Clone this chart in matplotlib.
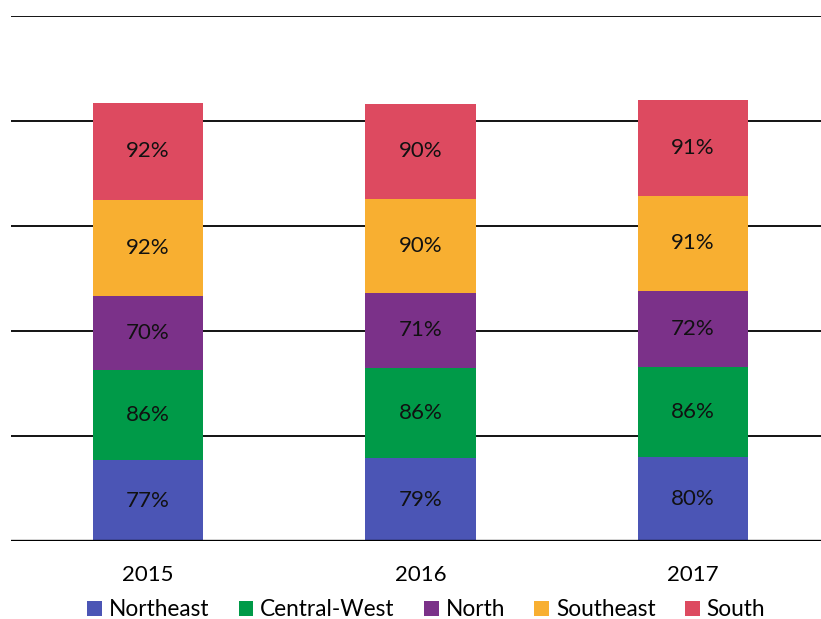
import matplotlib
matplotlib.use("Agg")
import matplotlib.pyplot as plt
import numpy as np

years = ["2015", "2016", "2017"]
regions = ["Northeast", "Central-West", "North", "Southeast", "South"]
northeast = [77, 79, 80]
central_west = [86, 86, 86]
north = [70, 71, 72]
southeast = [92, 90, 91]
south = [92, 90, 91]
series = [northeast, central_west, north, southeast, south]
colors = ["#4B55B5", "#009A48", "#7B3189", "#F8AF31", "#DD4A60"]

plt.rcParams['font.family'] = ['Lato', 'DejaVu Sans']
fig = plt.figure(figsize=(8.21, 6.19), dpi=100)
ax = fig.add_axes([11/821, 78/619, 810/821, 525/619])
x = np.arange(len(years))
bottom = np.zeros(len(years))
for name, vals, c in zip(regions, series, colors):
    vals = np.array(vals, dtype=float)
    bars = ax.bar(x, vals, 0.404, bottom=bottom, color=c, label=name, zorder=3)
    for xi, b, v in zip(x, bottom, vals):
        ax.text(xi, b + v / 2, f"{int(v)}%", ha="center", va="center",
                fontsize=16, color="#111111", zorder=4)
    bottom += vals

ax.set_ylim(0, 500)
ax.set_xlim(-0.503, 2.47)
for y in [100, 200, 300, 400, 500]:
    ax.axhline(y, color="#000000", lw=1.3, zorder=1)
ax.axhline(0, color="#000000", lw=2.4, zorder=5)
for s in ax.spines.values():
    s.set_visible(False)
ax.set_yticks([])
ax.set_xticks(x)
ax.set_xticklabels(years, fontsize=16)
ax.tick_params(axis="x", length=0, pad=17)
leg = fig.legend(loc="center", bbox_to_anchor=(426/821, 1 - 610/619), ncol=5, frameon=False,
                 fontsize=16.3, handlelength=0.65, handleheight=0.65, handletextpad=0.3,
                 columnspacing=1.3)
fig.savefig("out.png", dpi=100)
